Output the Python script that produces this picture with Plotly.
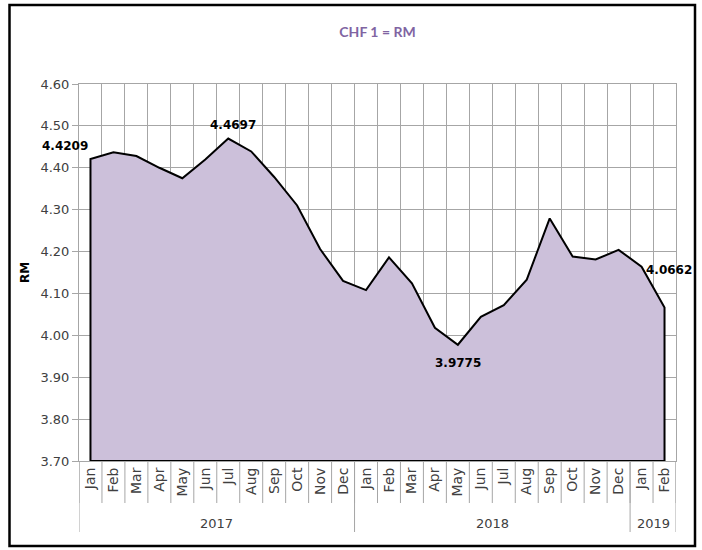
import plotly.graph_objects as go

# monthly CHF -> RM rates, Jan 2017 .. Feb 2019
months = ['Jan', 'Feb', 'Mar', 'Apr', 'May', 'Jun', 'Jul', 'Aug', 'Sep', 'Oct', 'Nov', 'Dec',
          'Jan', 'Feb', 'Mar', 'Apr', 'May', 'Jun', 'Jul', 'Aug', 'Sep', 'Oct', 'Nov', 'Dec',
          'Jan', 'Feb']
years = ['2017', '2018', '2019']
year_counts = [12, 12, 2]
rates = [4.4209, 4.437, 4.428, 4.400, 4.375, 4.420, 4.4697, 4.439, 4.378, 4.310, 4.206, 4.130,
         4.108, 4.186, 4.124, 4.018, 3.9775, 4.044, 4.072, 4.133, 4.279, 4.188, 4.181, 4.204,
         4.164, 4.0662]
# points that carry a value label
labelled = [0, 6, 16, 25]

y_min, y_max = 3.70, 4.60
n = len(rates)
idx = list(range(n))

# plot area geometry (px) so paper coords can be worked out
W, H = 702, 550
L, R, T, B = 79, 26, 84, 89
pw, ph = W - L - R, H - T - B

def px_x(px):
    return (px - L) / pw

def px_y(py):
    return (H - B - py) / ph

grid = '#a6a6a6'
txt = '#404040'
font = 'DejaVu Sans, sans-serif'

# label placement (anchor, x shift, y shift)
label_style = {0: ('right', 0, 13), 6: ('center', 5, 14), 16: ('center', 0, -18), 25: ('center', 4, 38)}

# closed outline so the left/right/bottom edges get a black border too
area_x = [idx[0]] + idx + [idx[-1], idx[0]]
area_y = [y_min] + rates + [y_min, y_min]

area = go.Scatter(x=area_x, y=area_y, mode='lines', fill='toself',
                  fillcolor='#ccc0da', line=dict(color='black', width=2),
                  hoverinfo='skip')

fig = go.Figure([area])

annotations = []
for i in labelled:
    anchor, dx, dy = label_style[i]
    annotations.append(dict(x=idx[i], y=rates[i], xref='x', yref='y', text=f'<b>{rates[i]:.4f}</b>',
                            showarrow=False, xanchor=anchor, yanchor='middle', xshift=dx, yshift=dy,
                            font=dict(family=font, size=12, color='black')))

shapes = []
# month separators under the axis
for b in range(n + 1):
    shapes.append(dict(type='line', xref='x', yref='paper', x0=b - 0.5, x1=b - 0.5,
                       y0=0, y1=px_y(503), line=dict(color=grid, width=1)))
# year dividers and year labels
start = 0
bounds = [0]
for yr, c in zip(years, year_counts):
    annotations.append(dict(x=start + (c - 1) / 2, xref='x', y=px_y(523), yref='paper',
                            text=yr, showarrow=False, yanchor='middle',
                            font=dict(family=font, size=13, color=txt)))
    start += c
    bounds.append(start)
for b in bounds:
    shapes.append(dict(type='line', xref='x', yref='paper', x0=b - 0.5, x1=b - 0.5,
                       y0=0, y1=px_y(532), line=dict(color=grid, width=1)))
# outer frame
shapes.append(dict(type='rect', xref='paper', yref='paper',
                   x0=px_x(9.5), x1=px_x(695), y0=px_y(5), y1=px_y(546),
                   line=dict(color='black', width=2.5)))

fig.update_layout(
    width=W, height=H,
    margin=dict(l=L, r=R, t=T, b=B),
    paper_bgcolor='white', plot_bgcolor='white',
    showlegend=False,
    font=dict(family=font, color=txt),
    title=dict(text='<b>CHF 1 = RM</b>', x=0.5, xref='paper', y=1 - 32 / H, yanchor='middle',
               font=dict(family='Lato, sans-serif', size=14, color='#8064a2')),
    shapes=shapes,
    annotations=annotations,
    xaxis=dict(range=[-0.5, n - 0.5], tickmode='array', tickvals=idx, ticktext=months,
               tickangle=-90, ticks='', showgrid=False, zeroline=False, automargin=False,
               tickfont=dict(family=font, size=14, color=txt),
               showline=True, linecolor=grid, mirror=True,
               minor=dict(tickmode='array', tickvals=[b - 0.5 for b in range(n + 1)],
                          showgrid=True, gridcolor=grid, gridwidth=1, ticks='')),
    yaxis=dict(range=[y_min, y_max], dtick=0.1, tickformat='.2f', showgrid=True,
               gridcolor=grid, ticks='outside', ticklen=6, tickcolor=grid, zeroline=False,
               showline=True, linecolor=grid, mirror=True, automargin=False,
               tickfont=dict(family=font, size=13, color=txt),
               title=dict(text='<b>RM</b>', standoff=8,
                          font=dict(family=font, size=12, color='black'))),
)

fig.write_html('out.html', config={'displayModeBar': False},
               post_script="document.body.style.margin='0';")
